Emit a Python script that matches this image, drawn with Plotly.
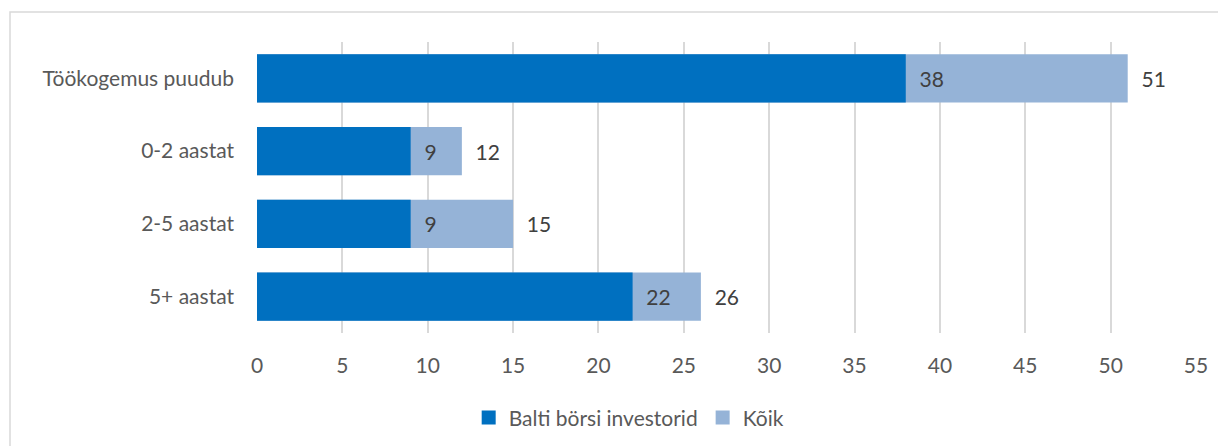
import plotly.graph_objects as go

categories = ["Töökogemus puudub", "0-2 aastat", "2-5 aastat", "5+ aastat"]
balti = [38, 9, 9, 22]
koik = [51, 12, 15, 26]
x_ticks = [0, 5, 10, 15, 20, 25, 30, 35, 40, 45, 50, 55]

DARK, LIGHT = "#0070C0", "#95B3D7"

# page body adds an 8px margin, so the figure is a bit smaller than the window
W, H = 1218, 438
L, R, T, B = 249, 30, 34, 113
pw = W - L - R
ph = H - T - B

fig = go.Figure()
fig.add_trace(go.Bar(
    y=categories, x=koik, name="Kõik", orientation="h",
    marker=dict(color=LIGHT, line=dict(width=0)),
    text=["\u00a0\u00a0" + str(v) for v in koik], textposition="outside",
    textfont=dict(size=21, color="#404040"), cliponaxis=False,
    width=0.66, showlegend=False,
))
fig.add_trace(go.Bar(
    y=categories, x=balti, name="Balti börsi investorid", orientation="h",
    marker=dict(color=DARK, line=dict(width=0)),
    text=["\u00a0\u00a0" + str(v) for v in balti], textposition="outside",
    textfont=dict(size=21, color="#404040"), cliponaxis=False,
    width=0.66, showlegend=False,
))

# legend entries with bigger square swatches
for name, col in [("Balti börsi investorid", DARK), ("Kõik", LIGHT)]:
    fig.add_trace(go.Scatter(x=[None], y=[None], mode="markers", name=name,
                             marker=dict(symbol="square", size=14, color=col)))

# chart border (only top and left edges fall inside the picture)
fig.add_shape(type="rect", xref="paper", yref="paper",
              x0=(2 - L) / pw, x1=(W + 20 - L) / pw,
              y0=-(H + 20 - T - ph) / ph, y1=1 + (T - 4) / ph,
              line=dict(color="#D9D9D9", width=1.5), fillcolor="rgba(0,0,0,0)", layer="below")

fig.update_layout(
    width=W, height=H,
    margin=dict(l=L, r=R, t=T, b=B, autoexpand=False),
    barmode="overlay",
    paper_bgcolor="white", plot_bgcolor="white",
    font=dict(family="Lato, Open Sans, sans-serif", size=21, color="#595959"),
    showlegend=True,
    legend=dict(orientation="h", xref="container", yref="container",
                x=0.51, xanchor="center", y=0.064, yanchor="middle",
                font=dict(size=21, color="#595959"), itemwidth=30,
                traceorder="normal"),
    xaxis=dict(range=[0, 55], tickvals=x_ticks, showgrid=True, gridcolor="#D9D9D9",
               gridwidth=1.5, zeroline=False, showline=False, ticks="",
               ticklabelstandoff=18, tickfont=dict(size=21, color="#595959")),
    yaxis=dict(autorange="reversed", showgrid=False, zeroline=False, showline=False,
               ticks="", ticklabelstandoff=22, tickfont=dict(size=21, color="#595959")),
)

fig.write_html("out.html")
